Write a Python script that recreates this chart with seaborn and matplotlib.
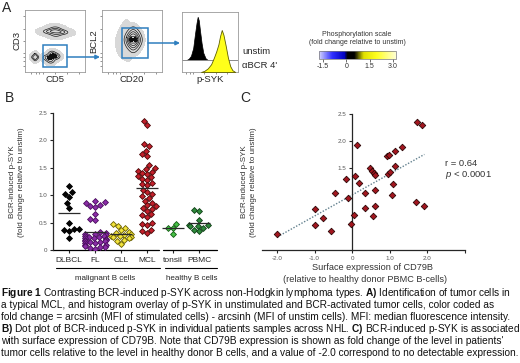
import numpy as np
import pandas as pd
import seaborn as sns
import matplotlib.pyplot as plt
from matplotlib.colors import LinearSegmentedColormap, ListedColormap, Normalize
from matplotlib.cm import ScalarMappable
from matplotlib.lines import Line2D
from matplotlib.patches import Rectangle

W, H = 520, 363

# ---- panel B: BCR-induced p-SYK per patient ----
groups = ['DLBCL', 'FL', 'CLL', 'MCL', 'tonsil', 'PBMC']
dlbcl = [1.16, 1.02, 1.05, 0.97, 0.85, 0.77, 0.49, 0.38, 0.36, 0.35, 0.38, 0.22]
fl = [0.89, 0.87, 0.86, 0.83, 0.81, 0.79, 0.66, 0.57, 0.55, 0.33, 0.31, 0.30,
      0.29, 0.27, 0.26, 0.26, 0.24, 0.23, 0.22, 0.21, 0.20, 0.19, 0.18, 0.17,
      0.16, 0.15, 0.14, 0.13, 0.12, 0.10, 0.09, 0.08, 0.06, 0.05, 0.04, 0.02]
cll = [0.47, 0.43, 0.41, 0.36, 0.33, 0.31, 0.29, 0.28, 0.26, 0.25, 0.24, 0.23,
       0.22, 0.19, 0.17, 0.11]
mcl = [2.36, 2.29, 1.94, 1.89, 1.81, 1.75, 1.72, 1.55, 1.50, 1.47, 1.45, 1.42,
       1.40, 1.38, 1.35, 1.33, 1.30, 1.28, 1.22, 1.20, 1.18, 1.10, 1.05, 1.02,
       0.98, 0.95, 0.90, 0.86, 0.82, 0.80, 0.77, 0.75, 0.72, 0.66, 0.63, 0.60,
       0.50, 0.48, 0.46, 0.36, 0.34, 0.31]
tonsil = [0.48, 0.41, 0.40, 0.29]
pbmc = [0.73, 0.71, 0.55, 0.46, 0.45, 0.44, 0.43, 0.40, 0.36, 0.35]
group_values = [dlbcl, fl, cll, mcl, tonsil, pbmc]
face_colors = ['#050505', '#8a2ca6', '#f2e33c', '#c3202b', '#45c045', '#2f8a3c']
edge_colors = ['#000000', '#4a0f5e', '#6b6000', '#4a0808', '#145a14', '#0f3f16']

# ---- panel C: CD79B vs p-SYK ----
cd79b = [-1.99, -0.99, -0.99, -0.78, -0.57, -0.45, -0.16, -0.10, 0.12, 0.08,
         0.17, 0.35, 0.35, 0.05, -0.04, 0.46, 0.52, 0.59, 0.61, 0.60, 0.60,
         0.54, 0.92, 0.97, 1.13, 1.32, 0.95, 1.01, 1.15, 1.08, 1.06, 1.70,
         1.92, 1.72, 1.86]
psyk = [0.29, 0.75, 0.46, 0.58, 0.35, 1.04, 1.30, 0.95, 1.93, 1.36,
        1.24, 1.04, 0.78, 0.64, 0.47, 1.50, 1.45, 1.41, 1.37, 1.10, 0.80,
        0.63, 1.72, 1.75, 1.82, 1.90, 1.39, 1.43, 1.55, 1.21, 1.01, 0.88,
        0.81, 2.36, 2.29]

# ---- panel A: histogram overlay (p-SYK, arbitrary units) ----
unstim_x = [8, 12, 16, 20, 23, 26, 28, 30, 32, 35, 38, 42, 46]
unstim_h = [0, 2, 7, 20, 42, 62, 72, 66, 50, 28, 12, 3, 0]
stim_x = [34, 40, 46, 52, 57, 61, 65, 68, 71, 74, 78, 82, 86, 90, 95]
stim_h = [0, 2, 6, 13, 24, 34, 46, 60, 70, 62, 44, 24, 10, 3, 0]

# ---- panel A: cell populations for contour plots ----
tcell_cd5 = [36, 46, 56, 66, 51, 51]
tcell_cd3 = [65, 66, 65, 64, 59, 71]
tumor_cd5 = [34, 44, 54, 44, 44, 40, 50]
tumor_cd3 = [24, 25, 24, 17, 31, 21, 27]
left_cd5 = [13, 21, 17, 17]
left_cd3 = [24, 24, 20, 28]
gated_cd20 = [42, 52, 62, 52, 52, 46, 58, 46, 58]
gated_bcl2 = [52, 52, 52, 38, 66, 44, 60, 60, 44]
haze_cd20 = [30, 37, 44, 35, 42]
haze_bcl2 = [48, 60, 34, 40, 66]

# colour scale
scale_ticks = [-1.5, 0, 1.5, 3.0]
scale_stops = [0.0, 0.17, 0.33, 0.37, 0.46, 0.58, 0.75, 1.0]
scale_colors = ['#d4d4ff', '#3030ff', '#0000c0', '#000000', '#000000',
                '#e0e000', '#ffff20', '#ffffd2']

sns.set_style('ticks')
plt.rcParams['font.family'] = ['Liberation Sans', 'DejaVu Sans']
plt.rcParams['mathtext.fontset'] = 'custom'
plt.rcParams['mathtext.rm'] = 'Liberation Sans'
plt.rcParams['mathtext.it'] = 'Liberation Sans:italic'
plt.rcParams['mathtext.bf'] = 'Liberation Sans:bold'

fig = plt.figure(figsize=(5.2, 3.63), dpi=100)


def box(x0, y0, x1, y1):
    return [x0 / W, 1 - y1 / H, (x1 - x0) / W, (y1 - y0) / H]


def ftext(x, y, s, **kw):
    return fig.text(x / W, 1 - y / H, s, **kw)


def fline(x0, x1, y, **kw):
    fig.add_artist(Line2D([x0 / W, x1 / W], [1 - y / H, 1 - y / H],
                          transform=fig.transFigure, **kw))


def farrow(x0, x1, y):
    fig.add_artist(plt.Annotation('', xy=(x1 / W, 1 - y / H), xytext=(x0 / W, 1 - y / H),
                                  xycoords='figure fraction', textcoords='figure fraction',
                                  arrowprops=dict(arrowstyle='-|>', color='#2f7fbf', lw=1.1,
                                                  mutation_scale=6, shrinkA=0, shrinkB=0)))


haze_cmap = ListedColormap(['#d8d8d8'])
line_cmap = ListedColormap(['#1a1a1a'])
core_cmap = ListedColormap(['#101010'])


def flow_blob(ax, xs, ys, bw=1.0, haze=0.02, rings=(0.3, 0.55, 0.75), core=None):
    sns.kdeplot(x=xs, y=ys, fill=True, levels=[haze, 1], cmap=haze_cmap,
                bw_adjust=bw, ax=ax)
    if rings:
        sns.kdeplot(x=xs, y=ys, fill=False, levels=list(rings), cmap=line_cmap,
                    linewidths=0.5, bw_adjust=bw, ax=ax)
    if core is not None:
        sns.kdeplot(x=xs, y=ys, fill=True, levels=[core, 1], cmap=core_cmap,
                    bw_adjust=bw, ax=ax)


def flow_axes(ax):
    ax.set_xlim(0, 100)
    ax.set_ylim(0, 100)
    ax.set_xlabel('')
    ax.set_ylabel('')
    ax.set_xticks([10, 18, 24, 30, 50, 70, 90])
    ax.set_yticks([10, 18, 24, 30, 50, 70, 90])
    ax.tick_params(length=1.5, width=0.5, colors='#666666', labelbottom=False, labelleft=False)
    for sp in ax.spines.values():
        sp.set_color('#9a9a9a')
        sp.set_linewidth(0.6)


# ---------------- panel A ----------------
ftext(2, 8, 'A', fontsize=10, va='center')

ax1 = fig.add_axes(box(25, 10, 85, 72))
flow_blob(ax1, tcell_cd5, tcell_cd3, 1.1, rings=(0.35, 0.6, 0.85))
flow_blob(ax1, left_cd5, left_cd3, 1.0, rings=(0.4, 0.7))
flow_blob(ax1, tumor_cd5, tumor_cd3, 1.0, rings=(0.25, 0.5), core=0.72)
flow_axes(ax1)
ax1.add_patch(Rectangle((30, 8), 40, 36, fill=False, ec='#2f7fbf', lw=1.1, zorder=5))
ftext(17, 41, 'CD3', fontsize=6.8, rotation=90, ha='center', va='center')
ftext(55, 80, 'CD5', fontsize=6.8, ha='center', va='center')

ax2 = fig.add_axes(box(102, 10, 162, 72))
flow_blob(ax2, haze_cd20, haze_bcl2, 1.0, haze=0.08, rings=None)
flow_blob(ax2, gated_cd20, gated_bcl2, 1.0, rings=(0.15, 0.35, 0.55, 0.72, 0.85), core=0.93)
flow_axes(ax2)
ax2.add_patch(Rectangle((33, 23), 44, 48, fill=False, ec='#2f7fbf', lw=1.1, zorder=5))
ftext(94, 41, 'BCL2', fontsize=6.8, rotation=90, ha='center', va='center')
ftext(132, 80, 'CD20', fontsize=6.8, ha='center', va='center')

farrow(67, 100, 57)
farrow(148, 180, 43)

ax3 = fig.add_axes(box(182, 12, 238, 72))
base = 20
ax3.fill_between(unstim_x, base, [base + h for h in unstim_h], color='black', lw=0.5)
ax3.axhline(base, color='#8a8a8a', lw=0.7)
ax3.fill_between(stim_x, 0, stim_h, facecolor='#ffff1a', edgecolor='#5e5e00', lw=0.6, zorder=3)
ax3.set_xlim(0, 100)
ax3.set_ylim(0, 100)
ax3.set_xticks([8, 14, 20, 40, 60, 80])
ax3.set_yticks([])
ax3.tick_params(length=1.5, width=0.5, colors='#666666', labelbottom=False)
for sp in ax3.spines.values():
    sp.set_color('#9a9a9a')
    sp.set_linewidth(0.6)
ftext(210, 80, 'p-SYK', fontsize=6.8, ha='center', va='center')
ftext(242, 52, 'unstim', fontsize=6.8, va='center')
ftext(242, 65, "\u03b1BCR 4'", fontsize=6.8, va='center')

# colour scale bar
ftext(357, 35, 'Phosphorylation scale', fontsize=5, ha='center', va='center', color='#333333')
ftext(357, 43, '(fold change relative to unstim)', fontsize=5, ha='center', va='center', color='#333333')
cax = fig.add_axes(box(319, 51, 396, 59))
scale_cmap = LinearSegmentedColormap.from_list('phos', list(zip(scale_stops, scale_colors)))
cb = fig.colorbar(ScalarMappable(norm=Normalize(-1.75, 3.2), cmap=scale_cmap), cax=cax,
                  orientation='horizontal', ticks=scale_ticks)
cb.ax.set_xticklabels(['-1.5', '0', '1.5', '3.0'])
cb.ax.tick_params(labelsize=5, length=2, width=0.5, pad=1, colors='#333333')
cb.outline.set_edgecolor('#777777')
cb.outline.set_linewidth(0.5)

# ---------------- panel B ----------------
ftext(5, 98, 'B', fontsize=10, va='center')
axB = fig.add_axes(box(53, 113, 217, 250))
for i, (name, vals) in enumerate(zip(groups, group_values)):
    sns.swarmplot(x=[name] * len(vals), y=vals, order=groups, color=face_colors[i],
                  edgecolor=edge_colors[i], linewidth=0.6, marker='D', size=3.0,
                  warn_thresh=1, ax=axB)
    axB.hlines(np.mean(vals), i - 0.42, i + 0.42, color='#2a2a2a', lw=0.9, zorder=6)
axB.set_xlim(-0.62, 5.69)
axB.set_ylim(0, 2.5)
axB.set_yticks([0, 0.5, 1.0, 1.5, 2.0, 2.5])
axB.set_yticklabels(['0', '0.5', '1.0', '1.5', '2.0', '2.5'])
axB.tick_params(axis='y', labelsize=4.5, labelcolor='#555555', length=2.5, width=0.8, pad=1.5)
axB.tick_params(axis='x', labelsize=6, length=2.5, width=0.8, pad=2.5)
sns.despine(ax=axB)
axB.spines['bottom'].set_visible(False)
axB.spines['left'].set_linewidth(0.9)
axB.plot([-0.62, 3.45], [0, 0], color='black', lw=0.9, clip_on=False,
         transform=axB.get_xaxis_transform())
axB.plot([3.6, 5.69], [0, 0], color='black', lw=0.9, clip_on=False,
         transform=axB.get_xaxis_transform())
fline(56, 160, 268, color='black', lw=0.8)
fline(165, 217, 268, color='black', lw=0.8)
ftext(105, 278, 'malignant B cells', fontsize=5.8, ha='center', va='center')
ftext(192, 278, 'healthy B cells', fontsize=5.8, ha='center', va='center')
ftext(17, 182, 'BCR-induced p-SYK\n(fold change relative to unstim)', fontsize=5.8,
      rotation=90, ha='center', va='center', linespacing=1.25, color='#333333')

# ---------------- panel C ----------------
ftext(240, 98, 'C', fontsize=10, va='center')
axC = fig.add_axes(box(262, 114, 465, 250))
sns.regplot(x=cd79b, y=psyk, scatter=False, ci=None, ax=axC,
            line_kws=dict(color='#62808e', lw=1.0, ls=(0, (1, 1.2))))
sns.scatterplot(x=cd79b, y=psyk, marker='D', s=11, color='#a3161f', edgecolor='#2a0505',
                linewidth=0.6, ax=axC, zorder=3)
axC.set_xlim(-2.4, 3.0)
axC.set_ylim(0, 2.5)
axC.spines['left'].set_position(('data', 0))
sns.despine(ax=axC)
axC.spines['left'].set_linewidth(0.9)
axC.spines['bottom'].set_linewidth(0.9)
axC.set_xticks([-2, -1, 0, 1, 2, 3])
axC.set_xticklabels(['-2.0', '-1.0', '0', '1.0', '2.0', ''])
axC.set_yticks([1.5, 2.0, 2.5])
axC.set_yticklabels(['1.5', '2.0', '2.5'])
axC.tick_params(labelsize=4.5, labelcolor='#555555', length=2.5, width=0.8, pad=1.5)
ftext(249, 182, 'BCR-induced p-SYK\n(fold change relative to unstim)', fontsize=5.8,
      rotation=90, ha='center', va='center', linespacing=1.25, color='#333333')
ftext(372, 268, 'Surface expression of CD79B', fontsize=6.6, ha='center', va='center', color='#333333')
ftext(365, 279, '(relative to healthy donor PBMC B-cells)', fontsize=6.6, ha='center', va='center',
      color='#333333')
ftext(445, 164, 'r = 0.64', fontsize=6.8, va='center', color='#333333')
ftext(445, 175, '$p$ < 0.0001', fontsize=6.8, va='center', color='#333333')

# ---------------- caption ----------------
caption = [
    r'$\mathbf{Figure\ 1}$ Contrasting BCR-induced p-SYK across non-Hodgkin lymphoma types. $\mathbf{A)}$ Identification of tumor cells in',
    'a typical MCL, and histogram overlay of p-SYK in unstimulated and BCR-activated tumor cells, color coded as',
    'fold change = arcsinh (MFI of stimulated cells) - arcsinh (MFI of unstim cells). MFI: median fluorescence intensity.',
    r'$\mathbf{B)}$ Dot plot of BCR-induced p-SYK in individual patients samples across NHL. $\mathbf{C)}$ BCR-induced p-SYK is associated',
    "with surface expression of CD79B. Note that CD79B expression is shown as fold change of the level in patients'",
    'tumor cells relative to the level in healthy donor B cells, and a value of -2.0 correspond to no detectable expression.',
]
for k, line in enumerate(caption):
    ftext(1, 293 + 12 * k, line, fontsize=7.3, va='center', color='#111111')

fig.savefig('out.png', dpi=100)
